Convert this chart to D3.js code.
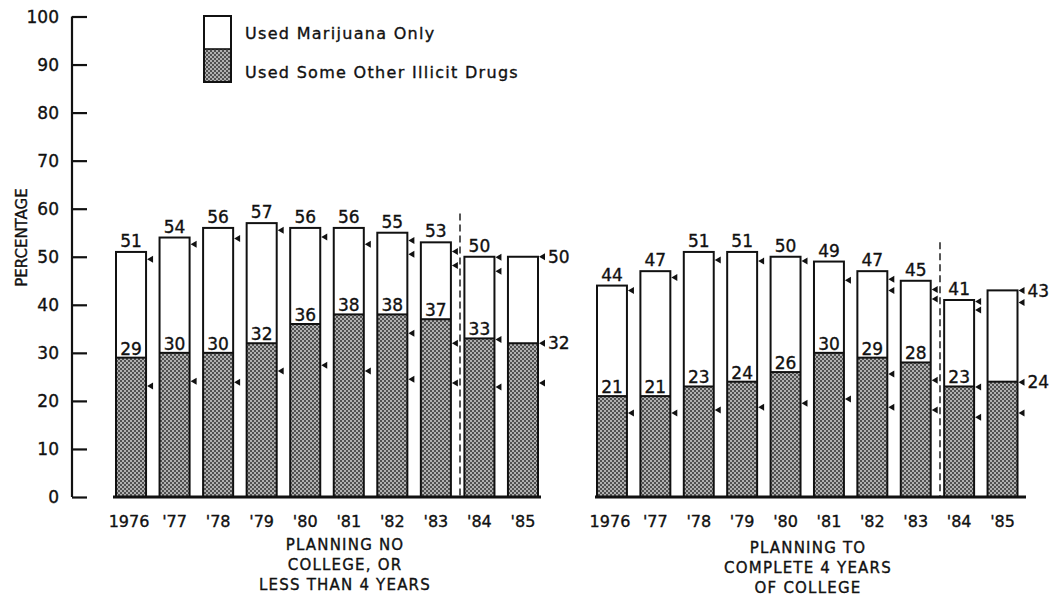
<!DOCTYPE html>
<html>
<head>
<meta charset="utf-8">
<script src="https://cdn.jsdelivr.net/npm/d3@7/dist/d3.min.js"></script>
<style>
  html, body { margin: 0; padding: 0; background: #fff; }
  svg { display: block; }
  text { font-family: "DejaVu Sans", sans-serif; fill: #111; stroke: #111; stroke-width: 0.35px; }
</style>
</head>
<body>
<svg id="chart" width="1056" height="596"></svg>
<script>
// ---------- DATA ----------
const years = ["1976", "'77", "'78", "'79", "'80", "'81", "'82", "'83", "'84", "'85"];
const seriesNames = ["Used Marijuana Only", "Used Some Other Illicit Drugs"];
const yTicks = [0, 10, 20, 30, 40, 50, 60, 70, 80, 90, 100];

// Group 1: Planning no college, or less than 4 years
const noCollegeTotal = [51, 54, 56, 57, 56, 56, 55, 53, 50, 50];
const noCollegeOther = [29, 30, 30, 32, 36, 38, 38, 37, 33, 32];
const noCollegeMarkers = [
  [49.5, 23.1], [52.6, 24.1], [53.8, 23.9], [55.5, 26.2], [54.1, 27.4],
  [52.6, 26.2], [53.4, 50.5, 34.1, 24.5], [51.1, 48.2, 32.0, 23.7],
  [49.9, 47.0, 32.8, 22.9], [50.0, 32.0, 23.7]
];

// Group 2: Planning to complete 4 years of college
const collegeTotal = [44, 47, 51, 51, 50, 49, 47, 45, 41, 43];
const collegeOther = [21, 21, 23, 24, 26, 30, 29, 28, 23, 24];
const collegeMarkers = [
  [43.0, 17.5], [45.7, 17.5], [49.3, 18.1], [49.1, 18.7], [49.1, 19.5],
  [45.1, 20.4], [45.3, 43.0, 25.6, 18.7], [43.2, 41.2, 24.3, 18.1],
  [40.7, 38.9, 22.9, 16.6], [43.0, 40.5, 23.9, 17.5]
];

const groupTitles = [
  ["PLANNING NO", "COLLEGE, OR", "LESS THAN 4 YEARS"],
  ["PLANNING TO", "COMPLETE 4 YEARS", "OF COLLEGE"]
];

// ---------- DRAW ----------
const svg = d3.select("#chart");
const defs = svg.append("defs");
const pat = defs.append("pattern").attr("id", "checker")
  .attr("width", 4).attr("height", 4).attr("patternUnits", "userSpaceOnUse");
pat.append("rect").attr("width", 4).attr("height", 4).attr("fill", "#b0b0b0");
pat.append("rect").attr("width", 2).attr("height", 2).attr("fill", "#505050");
pat.append("rect").attr("x", 2).attr("y", 2).attr("width", 2).attr("height", 2).attr("fill", "#505050");

const y = d3.scaleLinear().domain([0, 100]).range([497, 16.5]);

// Y axis
const yAxis = d3.axisRight(y).tickValues(yTicks).tickSize(15).tickFormat("");
const ya = svg.append("g").attr("transform", "translate(72,0)").call(yAxis);
ya.select(".domain").attr("stroke", "#111").attr("stroke-width", 2.2).attr("d", `M0,${y(100)}V${y(0)}`);
ya.selectAll(".tick line").attr("stroke", "#111").attr("stroke-width", 2.2);
svg.append("g").selectAll("text").data(yTicks).join("text")
  .attr("x", 59).attr("y", d => y(d)).attr("dy", "0.36em")
  .attr("text-anchor", "end").attr("font-size", 17).text(d => d);

svg.append("text").attr("transform", `translate(22,${y(54)}) rotate(-90)`)
  .attr("text-anchor", "middle").attr("dy", "0.36em").attr("font-size", 15).text("PERCENTAGE");

// Legend
const lg = svg.append("g");
lg.append("rect").attr("x", 204).attr("y", 49).attr("width", 27).attr("height", 33).attr("fill", "url(#checker)");
lg.append("rect").attr("x", 204).attr("y", 16).attr("width", 27).attr("height", 66)
  .attr("fill", "none").attr("stroke", "#111").attr("stroke-width", 2);
lg.append("line").attr("x1", 204).attr("x2", 231).attr("y1", 49).attr("y2", 49).attr("stroke", "#111").attr("stroke-width", 1.6);
lg.selectAll("text").data(seriesNames).join("text")
  .attr("x", 245).attr("y", (d, i) => i === 0 ? 33 : 72).attr("dy", "0.36em")
  .attr("font-size", 16).attr("letter-spacing", 1.3).text(d => d);

const groups = [
  { total: noCollegeTotal, other: noCollegeOther, markers: noCollegeMarkers,
    range: [116, 538], base: [113, 541], dashX: 460, dashTop: 59, title: groupTitles[0], titleX: 345, titleY: 545 },
  { total: collegeTotal, other: collegeOther, markers: collegeMarkers,
    range: [597, 1017.5], base: [595, 1026], dashX: 940, dashTop: 53, title: groupTitles[1], titleX: 808, titleY: 548 }
];

groups.forEach(gr => {
  const x = d3.scaleBand().domain(years).range(gr.range).paddingInner(0.31).paddingOuter(0);
  const bw = x.bandwidth();
  const g = svg.append("g");
  const rows = years.map((yr, i) => ({ yr, i, total: gr.total[i], other: gr.other[i], markers: gr.markers[i] }));

  // shaded part
  g.selectAll(".shade").data(rows).join("rect")
    .attr("x", d => x(d.yr)).attr("y", d => y(d.other))
    .attr("width", bw).attr("height", d => y(0) - y(d.other))
    .attr("fill", "url(#checker)");
  // outlines
  g.selectAll(".outline").data(rows).join("rect")
    .attr("x", d => x(d.yr)).attr("y", d => y(d.total))
    .attr("width", bw).attr("height", d => y(0) - y(d.total))
    .attr("fill", "none").attr("stroke", "#111").attr("stroke-width", 2);
  g.selectAll(".divider").data(rows).join("line")
    .attr("x1", d => x(d.yr)).attr("x2", d => x(d.yr) + bw)
    .attr("y1", d => y(d.other)).attr("y2", d => y(d.other))
    .attr("stroke", "#111").attr("stroke-width", 2);

  // markers (flags at right edge)
  const mk = rows.flatMap(d => d.markers.map(v => ({ yr: d.yr, v })));
  g.selectAll(".mk").data(mk).join("path")
    .attr("d", d => {
      const x0 = x(d.yr) + bw + 1, yy = y(d.v);
      return `M${x0},${yy}L${x0 + 6},${yy - 3.5}L${x0 + 6},${yy + 3.5}Z`;
    })
    .attr("fill", "#111");

  const last = years.length - 1;
  // total labels
  g.selectAll(".tl").data(rows).join("text")
    .attr("x", d => d.i === last ? x(d.yr) + bw + 10 : x(d.yr) + bw / 2)
    .attr("y", d => d.i === last ? y(d.total) : y(d.total) - 5)
    .attr("dy", d => d.i === last ? "0.36em" : 0)
    .attr("text-anchor", d => d.i === last ? "start" : "middle")
    .attr("font-size", 17).text(d => d.total);
  // other labels
  g.selectAll(".ol").data(rows).join("text")
    .attr("x", d => d.i === last ? x(d.yr) + bw + 10 : x(d.yr) + bw / 2)
    .attr("y", d => d.i === last ? y(d.other) : y(d.other) - 3)
    .attr("dy", d => d.i === last ? "0.36em" : 0)
    .attr("text-anchor", d => d.i === last ? "start" : "middle")
    .attr("font-size", 17).text(d => d.other);

  // baseline
  g.append("line").attr("x1", gr.base[0]).attr("x2", gr.base[1])
    .attr("y1", y(0)).attr("y2", y(0)).attr("stroke", "#111").attr("stroke-width", 2.8);

  // dashed separator
  g.append("line").attr("x1", gr.dashX).attr("x2", gr.dashX)
    .attr("y1", y(gr.dashTop)).attr("y2", y(0))
    .attr("stroke", "#111").attr("stroke-width", 1.4).attr("stroke-dasharray", "7,4");

  // year labels
  g.selectAll(".yl").data(rows).join("text")
    .attr("x", d => x(d.yr) + bw / 2 + (d.i === 0 ? -2 : 0)).attr("y", 521).attr("dy", "0.36em")
    .attr("text-anchor", "middle").attr("font-size", 16).text(d => d.yr);

  // group titles
  g.selectAll(".gt").data(gr.title).join("text")
    .attr("x", gr.titleX).attr("y", (d, i) => gr.titleY + i * 20).attr("dy", "0.36em")
    .attr("text-anchor", "middle").attr("font-size", 15).attr("letter-spacing", 1.2).text(d => d);
});
</script>
</body>
</html>
